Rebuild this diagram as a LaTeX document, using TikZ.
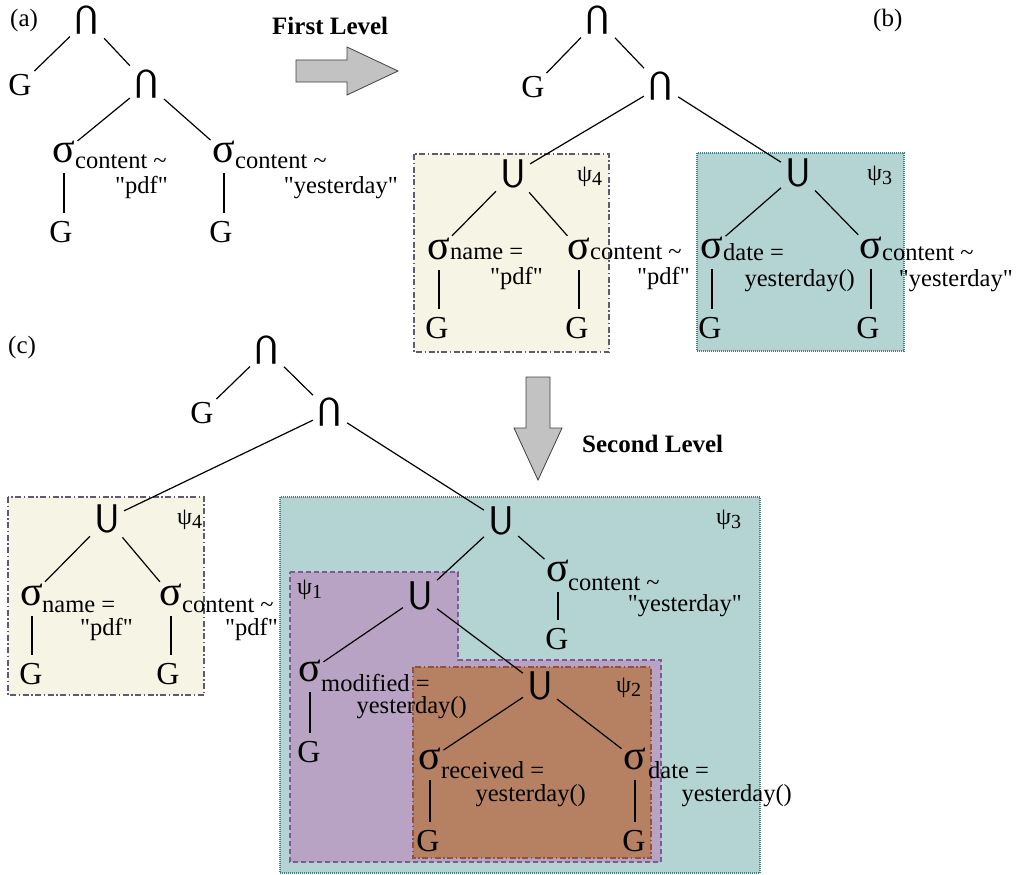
\documentclass[tikz,border=0pt]{standalone}
\usepackage{fontspec}
\setmainfont{Liberation Serif}[Ligatures=TeXOff]
\usetikzlibrary{backgrounds}

\definecolor{creamfill}{HTML}{F6F4E4}
\definecolor{creamline}{HTML}{5D5A72}
\definecolor{tealfill}{HTML}{B4D4D4}
\definecolor{tealline}{HTML}{3F7F80}
\definecolor{purplefill}{HTML}{B9A3C5}
\definecolor{purpleline}{HTML}{7D5C93}
\definecolor{brownfill}{HTML}{B68062}
\definecolor{brownline}{HTML}{93503D}
\definecolor{arrowfill}{HTML}{C2C2C2}
\definecolor{arrowline}{HTML}{404040}

\newcommand{\psiN}[1]{ψ\raisebox{-4pt}{\fontsize{20}{20}\selectfont #1}}

\begin{document}
\begin{tikzpicture}[x=1pt,y=-1pt,
  op/.style={font=\sffamily\fontsize{40}{40}\selectfont, inner sep=4pt},
  meet/.style={op, rotate=180},
  gnode/.style={font=\fontsize{32}{32}\selectfont, inner sep=3pt},
  sigma/.style={font=\fontsize{42}{42}\selectfont, inner sep=2pt},
  cond/.style={font=\fontsize{24.5}{24.5}\selectfont, inner sep=0pt, anchor=base west},
  condr/.style={cond, anchor=base east},
  psilabel/.style={font=\fontsize{24}{24}\selectfont, inner sep=0pt, anchor=west},
  panel/.style={font=\fontsize{25}{25}\selectfont, inner sep=0pt, anchor=base west},
  heading/.style={font=\bfseries\fontsize{25}{25}\selectfont, inner sep=0pt, anchor=base west},
  link/.style={line width=1.2pt},
  vline/.style={link, shorten <=8pt, shorten >=5pt},
  bigarrow/.style={fill=arrowfill, draw=arrowline, line width=0.8pt},
  box4/.style={fill=creamfill, draw=creamline, line width=1.3pt, dash pattern=on 6pt off 2.5pt on 1.5pt off 2.5pt},
  box3/.style={fill=tealfill, draw=tealline, line width=1.3pt, dash pattern=on 1pt off 1pt},
  box1/.style={fill=purplefill, draw=purpleline, line width=1.2pt, dash pattern=on 5pt off 3pt},
  box2/.style={fill=brownfill, draw=brownline, line width=1.2pt, dash pattern=on 6pt off 2.5pt on 1.5pt off 2.5pt}
]
\useasboundingbox (0,0) rectangle (1017,875);

% ---------- (a) the original query tree ----------
\node[panel] (pa) at (10,27) {(a)};
\node[meet] (capA1) at (87,20) {U};
\node[gnode] (gA1) at (20,85) {G};
\node[meet] (capA2) at (147,84) {U};
\node[sigma] (sA1) at (64,152) {σ};
\node[sigma] (sA2) at (224,152) {σ};
\node[gnode] (gA2) at (61,232) {G};
\node[gnode] (gA3) at (221,232) {G};
\node[cond] (sA1a) at (75,168) {content \textasciitilde};
\node[condr] (sA1b) at (168,193) {"pdf"};
\node[cond] (sA2a) at (235,168) {content \textasciitilde};
\node[condr] (sA2b) at (398,193) {"yesterday"};
\draw[link] (capA1) -- (gA1);
\draw[link] (capA1) -- (capA2);
\draw[link] (capA2) -- (sA1);
\draw[link] (capA2) -- (sA2);
\draw[vline] (sA1.south) -- (sA1.south |- gA2.north);
\draw[vline] (sA2.south) -- (sA2.south |- gA3.north);

% first rewriting step
\node[heading] (lvl1) at (272,35) {First Level};
\draw[bigarrow] (296,60) -- (347,60) -- (347,47) -- (398,71) -- (347,95) -- (347,82) -- (296,82) -- cycle;

% ---------- (b) after the first level ----------
\node[panel] (pb) at (873,27) {(b)};
\begin{scope}[on background layer]
  \draw[box4] (414,154) rectangle (609,352);
  \draw[box3] (697,153) rectangle (904,351);
\end{scope}
\node[meet] (capB1) at (598,20) {U};
\node[gnode] (gB1) at (533,87) {G};
\node[meet] (capB2) at (661,86) {U};
% psi_4 block
\node[op] (uB4) at (513,174) {U};
\node[psilabel] (psiB4) at (577,177) {\psiN{4}};
\node[sigma] (sB1) at (439,249) {σ};
\node[cond] (sB1a) at (450,259) {name =};
\node[condr] (sB1b) at (543,284) {"pdf"};
\node[sigma] (sB2) at (579,249) {σ};
\node[cond] (sB2a) at (590,259) {content \textasciitilde};
\node[condr] (sB2b) at (690,284) {"pdf"};
\node[gnode] (gB2) at (437,328) {G};
\node[gnode] (gB3) at (577,328) {G};
% psi_3 block
\node[op] (uB3) at (798,173) {U};
\node[psilabel] (psiB3) at (867,176) {\psiN{3}};
\node[sigma] (sB3) at (712,248) {σ};
\node[cond] (sB3a) at (723,260) {date =};
\node[condr] (sB3b) at (855,286) {yesterday()};
\node[sigma] (sB4) at (871,248) {σ};
\node[cond] (sB4a) at (882,260) {content \textasciitilde};
\node[condr] (sB4b) at (1013,286) {"yesterday"};
\node[gnode] (gB4) at (710,328) {G};
\node[gnode] (gB5) at (868,328) {G};
\draw[link] (capB1) -- (gB1);
\draw[link] (capB1) -- (capB2);
\draw[link] (capB2) -- (uB4);
\draw[link] (capB2) -- (uB3);
\draw[link] (uB4) -- (sB1);
\draw[link] (uB4) -- (sB2);
\draw[vline] (sB1.south) -- (sB1.south |- gB2.north);
\draw[vline] (sB2.south) -- (sB2.south |- gB3.north);
\draw[link] (uB3) -- (sB3);
\draw[link] (uB3) -- (sB4);
\draw[vline] (sB3.south) -- (sB3.south |- gB4.north);
\draw[vline] (sB4.south) -- (sB4.south |- gB5.north);

% second rewriting step
\draw[bigarrow] (526,377) -- (550,377) -- (550,428) -- (562,428) -- (538,480) -- (514,428) -- (526,428) -- cycle;
\node[heading] (lvl2) at (582,452) {Second Level};

% ---------- (c) after the second level ----------
\node[panel] (pc) at (8,353) {(c)};
\begin{scope}[on background layer]
  \draw[box4] (8,497) rectangle (204,695);
  \draw[box3] (280,497) rectangle (760,873);
  \draw[box1] (290,572) -- (458,572) -- (458,660) -- (661,660) -- (661,862) -- (290,862) -- cycle;
  \draw[box2] (413,667) rectangle (651,858);
\end{scope}
\node[meet] (capC1) at (267,350) {U};
\node[gnode] (gC1) at (202,413) {G};
\node[meet] (capC2) at (330,412) {U};
% psi_4 block
\node[op] (uC4) at (107,519) {U};
\node[psilabel] (psiC4) at (177,520) {\psiN{4}};
\node[sigma] (sC1) at (32,595) {σ};
\node[cond] (sC1a) at (42,612) {name =};
\node[condr] (sC1b) at (133,635) {"pdf"};
\node[sigma] (sC2) at (171,595) {σ};
\node[cond] (sC2a) at (182,612) {content \textasciitilde};
\node[condr] (sC2b) at (278,635) {"pdf"};
\node[gnode] (gC2) at (31,674) {G};
\node[gnode] (gC3) at (168,674) {G};
% psi_3 block
\node[op] (uC3) at (501,521) {U};
\node[psilabel] (psiC3) at (716,520) {\psiN{3}};
\node[sigma] (sC3) at (558,571) {σ};
\node[cond] (sC3a) at (568,590) {content \textasciitilde};
\node[condr] (sC3b) at (742,611) {"yesterday"};
\node[gnode] (gC4) at (557,639) {G};
% psi_1 block
\node[op] (uC1) at (420,596) {U};
\node[psilabel] (psiC1) at (297,590) {\psiN{1}};
\node[sigma] (sC4) at (310,671) {σ};
\node[cond] (sC4a) at (321,691) {modified =};
\node[condr] (sC4b) at (467,713) {yesterday()};
\node[gnode] (gC5) at (309,752) {G};
% psi_2 block
\node[op] (uC2) at (540,686) {U};
\node[psilabel] (psiC2) at (616,688) {\psiN{2}};
\node[sigma] (sC5) at (430,759) {σ};
\node[cond] (sC5a) at (441,778) {received =};
\node[condr] (sC5b) at (586,801) {yesterday()};
\node[sigma] (sC6) at (635,759) {σ};
\node[cond] (sC6a) at (648,778) {date =};
\node[condr] (sC6b) at (792,801) {yesterday()};
\node[gnode] (gC6) at (428,841) {G};
\node[gnode] (gC7) at (634,841) {G};

\draw[link] (capC1) -- (gC1);
\draw[link] (capC1) -- (capC2);
\draw[link] (capC2) -- (uC4);
\draw[link] (capC2) -- (uC3);
\draw[link] (uC4) -- (sC1);
\draw[link] (uC4) -- (sC2);
\draw[vline] (sC1.south) -- (sC1.south |- gC2.north);
\draw[vline] (sC2.south) -- (sC2.south |- gC3.north);
\draw[link] (uC3) -- (uC1);
\draw[link] (uC3) -- (sC3);
\draw[vline] (sC3.south) -- (sC3.south |- gC4.north);
\draw[link] (uC1) -- (sC4);
\draw[link] (uC1) -- (uC2);
\draw[vline] (sC4.south) -- (sC4.south |- gC5.north);
\draw[link] (uC2) -- (sC5);
\draw[link] (uC2) -- (sC6);
\draw[vline] (sC5.south) -- (sC5.south |- gC6.north);
\draw[vline] (sC6.south) -- (sC6.south |- gC7.north);
\end{tikzpicture}
\end{document}
